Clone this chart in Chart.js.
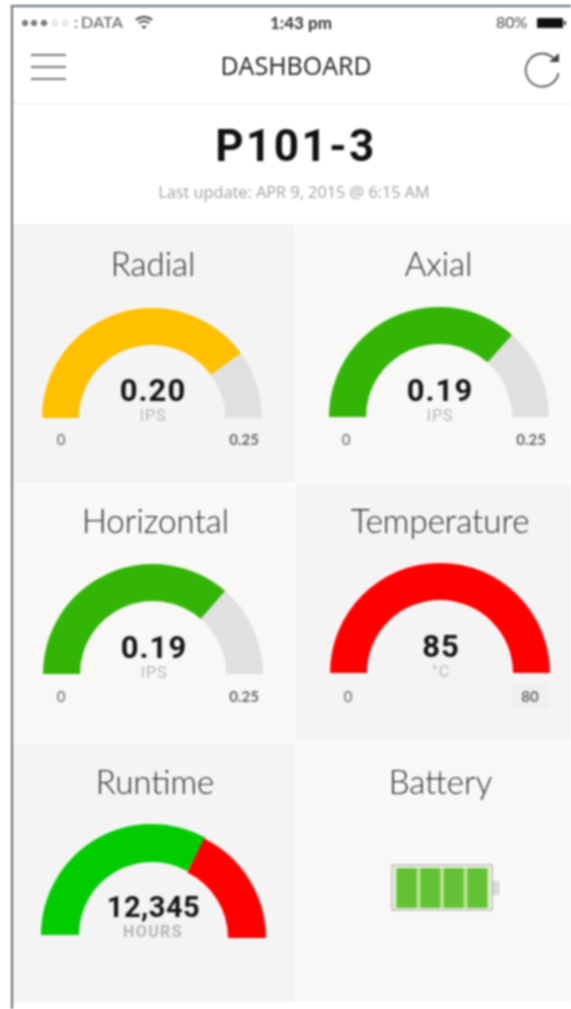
<!DOCTYPE html>
<html>
<head>
<meta charset="utf-8">
<title>Dashboard</title>
<script src="https://cdn.jsdelivr.net/npm/chart.js@4"></script>
<style>
  html, body { margin: 0; padding: 0; background: #fff; }
  body { width: 571px; height: 1009px; overflow: hidden; position: relative; font-family: Lato, sans-serif; }
  #tela { position: absolute; left: 0; top: 0; width: 571px; height: 1009px; filter: blur(0.8px); }
  .abs { position: absolute; white-space: nowrap; }
  .centro { transform: translateX(-50%); }
  .celula { position: absolute; }
  .titulo { font-size: 33px; font-weight: 300; color: #2c2c2c; }
  .leitura { font-family: Roboto, sans-serif; font-weight: 700; font-size: 31px; color: #151515; letter-spacing: 1px; }
  .unidade { font-family: Roboto, sans-serif; font-size: 16px; color: #b5b5b5; letter-spacing: 1px; }
  .escala { font-family: Lato, sans-serif; font-size: 15px; color: #666; }
  canvas { position: absolute; }
</style>
</head>
<body>
<div id="tela"></div>
<script>
// Gauge cells in reading order
var titulos = ["Radial", "Axial", "Horizontal", "Temperature", "Runtime"];
var leituras = ["0.20", "0.19", "0.19", "85", "12,345"];
var unidades = ["IPS", "IPS", "IPS", "°C", "HOURS"];
var minimos = ["0", "0", "0", "0", ""];
var maximos = ["0.25", "0.25", "0.25", "80", ""];

// Filled and remaining part of each arc
var preenchido = [0.20, 0.183, 0.182, 80];
var restante = [0.05, 0.067, 0.068, 0];
var corPreenchido = ["#ffc000", "#32b506", "#32b506", "#ff0000", "#00cc00"];
var corRestante = ["#e0e0e0", "#e0e0e0", "#e0e0e0", "#e0e0e0", "#ff0000"];

// Runtime is drawn as two arcs, the red one on top of the green one
var runtimeVerde = [12700, 6500];
var runtimeVermelho = [12345, 6765];

// Battery
var celulasBateria = ["1", "2", "3", "4"];
var cargaBateria = [1, 1, 1, 1];

var tela = document.getElementById("tela");

function texto(classe, conteudo, x, y, extra) {
  var el = document.createElement("div");
  el.className = "abs " + classe;
  el.textContent = conteudo;
  el.style.left = x + "px";
  el.style.top = y + "px";
  if (extra) el.style.cssText += extra;
  tela.appendChild(el);
  return el;
}

function caixa(x, y, w, h, estilo) {
  var el = document.createElement("div");
  el.className = "celula";
  el.style.cssText = "left:" + x + "px;top:" + y + "px;width:" + w + "px;height:" + h + "px;" + (estilo || "");
  tela.appendChild(el);
  return el;
}

function icone(x, y, w, h, conteudo) {
  var svg = document.createElementNS("http://www.w3.org/2000/svg", "svg");
  svg.setAttribute("width", w);
  svg.setAttribute("height", h);
  svg.style.cssText = "position:absolute;left:" + x + "px;top:" + y + "px";
  svg.innerHTML = conteudo;
  tela.appendChild(svg);
}

// Phone frame
caixa(11, 5, 560, 2, "background:#5d6b78");
caixa(11, 5, 2, 1004, "background:#5d6b78");

// Status bar
[25, 34, 44, 55, 65].forEach(function (x, i) {
  caixa(x - 3, 20, 6, 6, "box-sizing:border-box;border-radius:50%;border:1.5px solid " + (i < 3 ? "#444;background:#888" : "#bbb"));
});
texto("", ":", 74, 12, "font-size:16px;color:#555;");
texto("", "DATA", 81, 12, "font-size:16px;color:#555;letter-spacing:0.4px;");
icone(134, 14, 20, 16, '<path d="M2 6 A12 12 0 0 1 18 6" fill="none" stroke="#444" stroke-width="2"/><path d="M5 9 A8 8 0 0 1 15 9" fill="none" stroke="#444" stroke-width="2"/><path d="M7 12 L13 12 L10 15 Z" fill="#444"/>');
texto("centro", "1:43 pm", 301, 12, "font-size:17px;color:#333;font-weight:700;");
texto("", "80%", 496, 12, "font-size:16px;color:#444;");
caixa(537, 18, 26, 10, "background:#111;border-radius:1px");
caixa(564, 21, 2, 4, "background:#333");

// Navigation bar
caixa(31, 54, 35, 2, "background:#777");
caixa(31, 66, 35, 2, "background:#777");
caixa(31, 78, 35, 2, "background:#777");
texto("centro", "DASHBOARD", 296, 48, "font-family:'Open Sans',sans-serif;font-size:25px;color:#222;");
icone(523, 49, 40, 40, '<path d="M31 9.5 A16.5 16.5 0 1 0 35.5 24" fill="none" stroke="#444" stroke-width="1.6"/><path d="M26 13 L36 13 L36 4 Z" fill="#444"/>');
caixa(13, 102, 558, 3, "background:#f6f6f6");

texto("centro", "P101-3", 296, 120, "font-family:Roboto,sans-serif;font-weight:700;font-size:44px;color:#111;letter-spacing:2.5px;");
texto("centro", "Last update: APR 9, 2015 @ 6:15 AM", 294, 181, "font-family:'Open Sans',sans-serif;font-size:16.3px;color:#a0a0a0;");

// Grid of cells
var colunas = [13, 296];
var larguras = [282, 275];
var linhas = [224, 484, 743];
var alturas = [259, 258, 259];
var claro = "#f9f8f7";
var escuro = "#f4f4f4";
caixa(colunas[0], linhas[0], larguras[0], alturas[0], "background:" + escuro);
caixa(colunas[1], linhas[0], larguras[1], alturas[0], "background:" + claro);
caixa(colunas[0], linhas[1], larguras[0], alturas[1], "background:" + claro);
caixa(colunas[1], linhas[1], larguras[1], alturas[1], "background:" + escuro);
caixa(colunas[0], linhas[2], larguras[0], alturas[2], "background:" + escuro);
caixa(colunas[1], linhas[2], larguras[1], alturas[2], "background:" + claro);
caixa(513, 682, 36, 27, "background:#f0f0f0");

// Center of each gauge on the page
var centrosX = [152, 439, 153, 440, 152];
var centrosY = [418, 417, 674, 673, 935];
var raio = 110;
var miolo = 73;

// Title placement
var tituloX = [153, 438.5, 155.5, 440, 155];
var tituloY = [243, 243, 500, 500, 761];
var minimoX = [61, 346, 61, 348, 0];
var maximoX = [244, 531, 244, 530, 0];

function arco(x, y, r, c, valores, cores) {
  var canvas = document.createElement("canvas");
  canvas.width = r * 2;
  canvas.height = r;
  canvas.style.left = (x - r) + "px";
  canvas.style.top = (y - r) + "px";
  tela.appendChild(canvas);
  return new Chart(canvas, {
    type: "doughnut",
    data: {
      labels: ["valor", "resto"],
      datasets: [{ data: valores, backgroundColor: cores, borderWidth: 0 }]
    },
    options: {
      responsive: false,
      animation: false,
      rotation: -90,
      circumference: 180,
      cutout: (c / r * 100) + "%",
      plugins: { legend: { display: false }, tooltip: { enabled: false } }
    }
  });
}

titulos.forEach(function (t, i) {
  var x = centrosX[i];
  var y = centrosY[i];
  if (i == 4) {
    // the red part sits a little lower and to the right
    arco(x, y, raio + 1, miolo, runtimeVerde, [corPreenchido[i], "rgba(0,0,0,0)"]);
    arco(x + 3, y + 3, raio + 1, miolo, runtimeVermelho, ["rgba(0,0,0,0)", corRestante[i]]);
  } else {
    arco(x, y, raio, miolo, [preenchido[i], restante[i]], [corPreenchido[i], corRestante[i]]);
  }
  texto("titulo centro", t, tituloX[i], tituloY[i]);
  if (i == 4) {
    texto("leitura centro", leituras[i], x + 1.5, y - 45, "font-size:29px;letter-spacing:0.5px;");
    texto("unidade centro", unidades[i], x + 1, y - 13, "font-weight:700;letter-spacing:1.4px;");
  } else {
    texto("leitura centro", leituras[i], x + 1, y - 45 - (i == 0 ? 1 : 0));
    texto("unidade centro", unidades[i], x + 1, y - 11 - (i == 0 ? 1 : 0));
  }
  if (minimos[i]) texto("escala centro", minimos[i], minimoX[i], 430 + (i > 1 ? 257 : 0));
  if (maximos[i]) texto("escala centro", maximos[i], maximoX[i], 430 + (i > 1 ? 257 : 0), "font-weight:700;");
});

// Battery
texto("titulo centro", "Battery", 440.5, 761);
caixa(391, 864, 102, 47, "box-sizing:border-box;border:2px solid #c9c9c5;background:#eef3e6");
caixa(493, 881, 6, 14, "background:#dededa;border:1px solid #c9c9c5;box-sizing:border-box");
var lienzo = document.createElement("canvas");
lienzo.width = 94;
lienzo.height = 40;
lienzo.style.left = "395px";
lienzo.style.top = "868px";
lienzo.style.background = "#b8e694";
tela.appendChild(lienzo);
new Chart(lienzo, {
  type: "bar",
  data: {
    labels: celulasBateria,
    datasets: [{ data: cargaBateria, backgroundColor: "#64c136", barPercentage: 1, categoryPercentage: 0.84 }]
  },
  options: {
    responsive: false,
    animation: false,
    layout: { padding: 0 },
    scales: {
      x: { display: false },
      y: { display: false, min: 0, max: 1 }
    },
    plugins: { legend: { display: false }, tooltip: { enabled: false } }
  }
});
</script>
</body>
</html>
